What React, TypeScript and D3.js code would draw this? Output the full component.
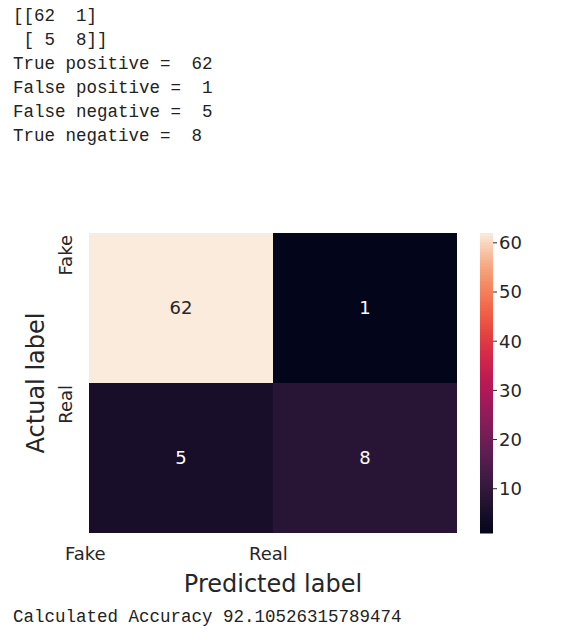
import React from 'react';
import * as d3 from 'd3';

const labels = ['Fake', 'Real'];
const matrix = [
  [62, 1],
  [5, 8],
];
const cbTicks = [10, 20, 30, 40, 50, 60];
const rocket = ['#03051A', '#221331', '#451C47', '#691F55', '#921C5B', '#B91657', '#D92847', '#ED503E', '#F47D57', '#F6AA82', '#FAEBDD'];

const mono = 'Liberation Mono, DejaVu Sans Mono, monospace';
const sans = 'DejaVu Sans, sans-serif';

export default function App() {
  const left = 81, top = 225, w = 368, h = 300;
  const x = d3.scaleBand().domain(labels).range([left, left + w]);
  const y = d3.scaleBand().domain(labels).range([top, top + h]);
  const flat = matrix.flat();
  const vmin = d3.min(flat)!, vmax = d3.max(flat)!;
  const color = d3.scaleSequential(d3.interpolateRgbBasis(rocket)).domain([vmin, vmax]);
  const cb = d3.scaleLinear().domain([vmin, vmax]).range([top + h, top]);
  const cbX = 472, cbW = 13;
  const steps = d3.range(0, 100);
  const textLines = [
    `[[${matrix[0][0]}  ${matrix[0][1]}]`,
    ` [ ${matrix[1][0]}  ${matrix[1][1]}]]`,
    `True positive =  ${matrix[0][0]}`,
    `False positive =  ${matrix[0][1]}`,
    `False negative =  ${matrix[1][0]}`,
    `True negative =  ${matrix[1][1]}`,
  ];
  const tp = matrix[0][0], tn = matrix[1][1];
  const acc = ((tp + tn) / d3.sum(flat)) * 100;
  return (
    <svg width={566} height={624} style={{ display: 'block', margin: 0 }}>
      <rect width={566} height={624} fill="#fff" />
      {textLines.map((t, i) => (
        <text key={i} x={5} y={13 + i * 24} fontFamily={mono} fontSize={17.5} style={{ whiteSpace: 'pre' }} fill="#222">{t}</text>
      ))}
      {labels.map((r, i) => labels.map((c, j) => {
        const v = matrix[i][j];
        return (
          <g key={r + c}>
            <rect x={x(c)} y={y(r)} width={x.bandwidth()} height={y.bandwidth()} fill={color(v)} />
            <text x={x(c)! + x.bandwidth() / 2} y={y(r)! + y.bandwidth() / 2} dy="0.35em" textAnchor="middle"
              fontFamily={sans} fontSize={18} fill={v > 30 ? '#262626' : '#fff'}>{v}</text>
          </g>
        );
      }))}
      {labels.map((l) => (
        <text key={'y' + l} transform={`translate(64,${y(l)! + 2}) rotate(-90)`} textAnchor="end"
          fontFamily={sans} fontSize={18} fill="#262626">{l}</text>
      ))}
      {labels.map((l) => (
        <text key={'x' + l} x={x(l)! - 24} y={552} textAnchor="start" fontFamily={sans} fontSize={18} fill="#262626">{l}</text>
      ))}
      <text transform={`translate(36,${top + h / 2}) rotate(-90)`} textAnchor="middle" fontFamily={sans} fontSize={24} fill="#262626">Actual label</text>
      <text x={265} y={584} textAnchor="middle" fontFamily={sans} fontSize={24} fill="#262626">Predicted label</text>
      {steps.map((s) => {
        const v0 = vmin + (vmax - vmin) * s / steps.length;
        const v1 = vmin + (vmax - vmin) * (s + 1) / steps.length;
        return <rect key={s} x={cbX} y={cb(v1)} width={cbW} height={cb(v0) - cb(v1) + 0.5} fill={color((v0 + v1) / 2)} />;
      })}
      {cbTicks.map((t) => (
        <g key={t} transform={`translate(${cbX + cbW},${cb(t)})`}>
          <line x2={4} stroke="#262626" />
          <text x={6} dy="0.35em" fontFamily={sans} fontSize={18} fill="#262626">{t}</text>
        </g>
      ))}
      <text x={5} y={614} fontFamily={mono} fontSize={17.5} fill="#222">{`Calculated Accuracy ${acc}`}</text>
    </svg>
  );
}
